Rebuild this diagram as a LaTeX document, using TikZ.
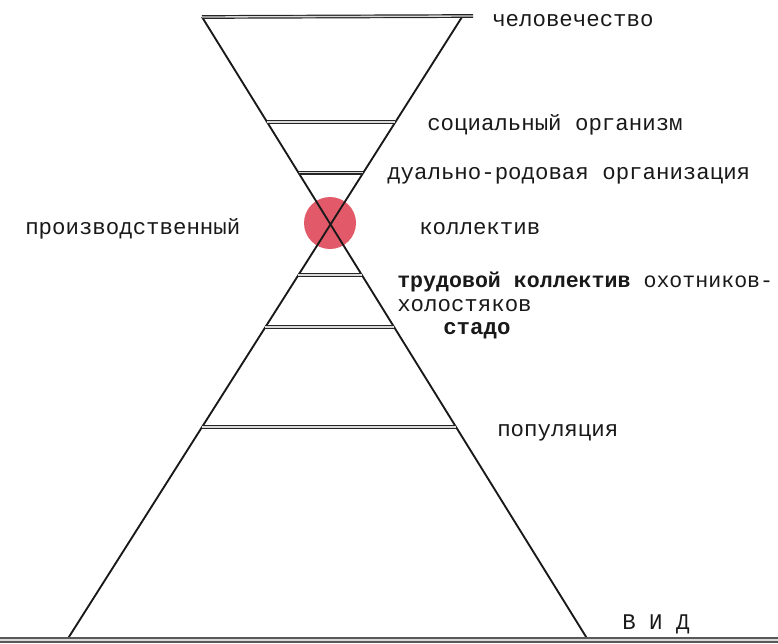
\documentclass[tikz,border=0pt]{standalone}
\usepackage{fontspec}
\setmonofont{Liberation Mono}
\usetikzlibrary{calc}
\definecolor{hubred}{RGB}{226,90,106}
\begin{document}
\begin{tikzpicture}[x=0.75pt, y=-0.75pt,
    leg/.style={line width=1.4pt, black!90},
    bar/.style={double=white!85!black, double distance=1pt, line width=0.9pt, black!85},
    lbl/.style={font=\ttfamily\fontsize{16.8}{19}\selectfont, text=black!90,
      anchor=west, inner sep=0pt}]
  \useasboundingbox (0,0) rectangle (778,643);
  % corners of the two crossing legs
  \coordinate (tl) at (202,17);
  \coordinate (tr) at (462,17);
  \coordinate (tb) at (473,16);
  \coordinate (bl) at (67,640);
  \coordinate (br) at (588,640);
  \coordinate (gl) at (0,640);
  \coordinate (gr) at (778,640);
  \node[circle, fill=hubred, minimum size=39pt, inner sep=0pt] (hub) at (330,223) {};
  \draw[leg] (tl) -- (br);
  \draw[leg] (tr) -- (bl);
  \draw[bar] (tl) -- (tb);
  \draw[bar, line width=1.3pt, double distance=1.6pt, black!65] (gl) -- (gr);
  \foreach \t/\n in {0.1685/soc, 0.25/dual, 0.414/trud, 0.4976/stado, 0.658/pop}
    \draw[bar] ($(tl)!\t!(br)$) coordinate (\n a) -- ($(tr)!\t!(bl)$) coordinate (\n b);
  % labels
  \node[lbl] (lhum)  at (492,21)  {человечество};
  \node[lbl] (lsoc)  at (427,125) {социальный организм};
  \node[lbl] (ldual) at (387,176) {дуально-родовая организация};
  \node[lbl] (lprod) at (25,229)  {производственный};
  \node[lbl] (lkol)  at (419,229) {коллектив};
  \node[lbl, font=\ttfamily\fontsize{16.2}{19}\selectfont] (ltrud) at (397,282)
    {\textbf{трудовой коллектив} охотников-};
  \node[lbl] (lhol)  at (397,306) {холостяков};
  \node[lbl, font=\ttfamily\bfseries\fontsize{16.8}{19}\selectfont] (lherd) at (443,331) {стадо};
  \node[lbl] (lpop)  at (497,433) {популяция};
  \node[lbl] (lvid)  at (622,624) {В И Д};
\end{tikzpicture}
\end{document}
